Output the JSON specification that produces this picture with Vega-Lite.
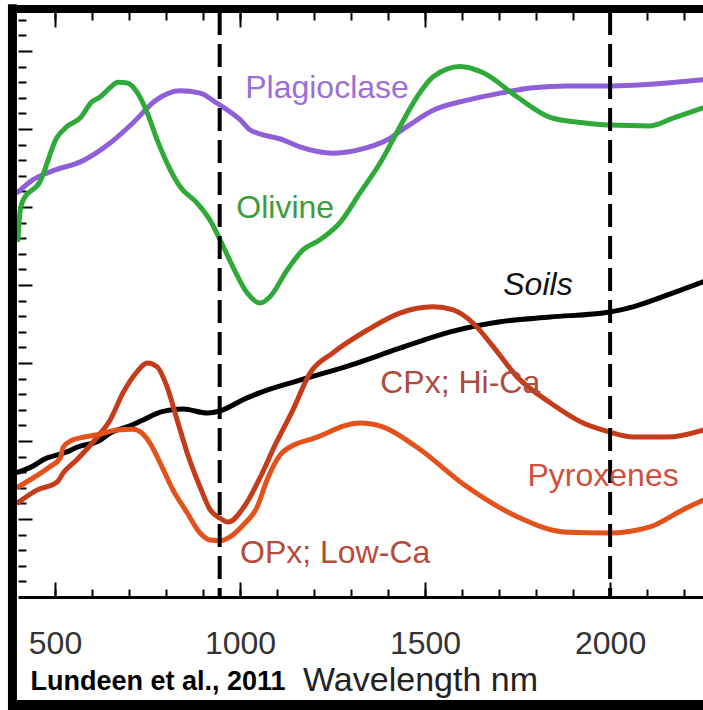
{
  "$schema": "https://vega.github.io/schema/vega-lite/v6.json",
  "width": 685,
  "height": 585,
  "autosize": {"type": "none"},
  "padding": {"left": 18, "top": 12, "right": 0, "bottom": 113},
  "background": "white",
  "config": {"view": {"stroke": null}, "axis": {"grid": false}},
  "datasets": {
    "spectra": [
      {"mineral": "Plagioclase", "wl": 400, "val": 5.19}, {"mineral": "Plagioclase", "wl": 441, "val": 5.35}, {"mineral": "Plagioclase", "wl": 486, "val": 5.45}, {"mineral": "Plagioclase", "wl": 578, "val": 5.60}, {"mineral": "Plagioclase", "wl": 649, "val": 5.82}, {"mineral": "Plagioclase", "wl": 711, "val": 6.08}, {"mineral": "Plagioclase", "wl": 773, "val": 6.37}, {"mineral": "Plagioclase", "wl": 838, "val": 6.49}, {"mineral": "Plagioclase", "wl": 892, "val": 6.46}, {"mineral": "Plagioclase", "wl": 938, "val": 6.33}, {"mineral": "Plagioclase", "wl": 1000, "val": 6.12}, {"mineral": "Plagioclase", "wl": 1027, "val": 5.99}, {"mineral": "Plagioclase", "wl": 1116, "val": 5.86}, {"mineral": "Plagioclase", "wl": 1162, "val": 5.77}, {"mineral": "Plagioclase", "wl": 1251, "val": 5.69}, {"mineral": "Plagioclase", "wl": 1343, "val": 5.76}, {"mineral": "Plagioclase", "wl": 1397, "val": 5.86}, {"mineral": "Plagioclase", "wl": 1451, "val": 6.03}, {"mineral": "Plagioclase", "wl": 1522, "val": 6.24}, {"mineral": "Plagioclase", "wl": 1614, "val": 6.37}, {"mineral": "Plagioclase", "wl": 1703, "val": 6.46}, {"mineral": "Plagioclase", "wl": 1792, "val": 6.53}, {"mineral": "Plagioclase", "wl": 1884, "val": 6.55}, {"mineral": "Plagioclase", "wl": 1995, "val": 6.55}, {"mineral": "Plagioclase", "wl": 2062, "val": 6.56}, {"mineral": "Plagioclase", "wl": 2154, "val": 6.59}, {"mineral": "Plagioclase", "wl": 2251, "val": 6.63},
      {"mineral": "Olivine", "wl": 400, "val": 4.58}, {"mineral": "Olivine", "wl": 405, "val": 4.92}, {"mineral": "Olivine", "wl": 414, "val": 5.09}, {"mineral": "Olivine", "wl": 459, "val": 5.32}, {"mineral": "Olivine", "wl": 505, "val": 5.89}, {"mineral": "Olivine", "wl": 532, "val": 6.03}, {"mineral": "Olivine", "wl": 568, "val": 6.14}, {"mineral": "Olivine", "wl": 600, "val": 6.35}, {"mineral": "Olivine", "wl": 622, "val": 6.41}, {"mineral": "Olivine", "wl": 649, "val": 6.53}, {"mineral": "Olivine", "wl": 670, "val": 6.60}, {"mineral": "Olivine", "wl": 695, "val": 6.59}, {"mineral": "Olivine", "wl": 722, "val": 6.47}, {"mineral": "Olivine", "wl": 749, "val": 6.21}, {"mineral": "Olivine", "wl": 776, "val": 5.86}, {"mineral": "Olivine", "wl": 803, "val": 5.56}, {"mineral": "Olivine", "wl": 838, "val": 5.26}, {"mineral": "Olivine", "wl": 884, "val": 5.05}, {"mineral": "Olivine", "wl": 919, "val": 4.83}, {"mineral": "Olivine", "wl": 946, "val": 4.58}, {"mineral": "Olivine", "wl": 981, "val": 4.23}, {"mineral": "Olivine", "wl": 1019, "val": 3.90}, {"mineral": "Olivine", "wl": 1054, "val": 3.77}, {"mineral": "Olivine", "wl": 1081, "val": 3.85}, {"mineral": "Olivine", "wl": 1127, "val": 4.19}, {"mineral": "Olivine", "wl": 1170, "val": 4.45}, {"mineral": "Olivine", "wl": 1216, "val": 4.58}, {"mineral": "Olivine", "wl": 1270, "val": 4.80}, {"mineral": "Olivine", "wl": 1324, "val": 5.18}, {"mineral": "Olivine", "wl": 1378, "val": 5.56}, {"mineral": "Olivine", "wl": 1432, "val": 6.03}, {"mineral": "Olivine", "wl": 1478, "val": 6.41}, {"mineral": "Olivine", "wl": 1522, "val": 6.67}, {"mineral": "Olivine", "wl": 1595, "val": 6.80}, {"mineral": "Olivine", "wl": 1657, "val": 6.72}, {"mineral": "Olivine", "wl": 1749, "val": 6.41}, {"mineral": "Olivine", "wl": 1838, "val": 6.15}, {"mineral": "Olivine", "wl": 1927, "val": 6.08}, {"mineral": "Olivine", "wl": 1995, "val": 6.05}, {"mineral": "Olivine", "wl": 2108, "val": 6.04}, {"mineral": "Olivine", "wl": 2170, "val": 6.14}, {"mineral": "Olivine", "wl": 2251, "val": 6.27},
      {"mineral": "Soils", "wl": 400, "val": 1.60}, {"mineral": "Soils", "wl": 441, "val": 1.68}, {"mineral": "Soils", "wl": 468, "val": 1.76}, {"mineral": "Soils", "wl": 532, "val": 1.86}, {"mineral": "Soils", "wl": 559, "val": 1.92}, {"mineral": "Soils", "wl": 622, "val": 2.01}, {"mineral": "Soils", "wl": 649, "val": 2.10}, {"mineral": "Soils", "wl": 711, "val": 2.21}, {"mineral": "Soils", "wl": 738, "val": 2.27}, {"mineral": "Soils", "wl": 792, "val": 2.38}, {"mineral": "Soils", "wl": 846, "val": 2.41}, {"mineral": "Soils", "wl": 911, "val": 2.36}, {"mineral": "Soils", "wl": 954, "val": 2.40}, {"mineral": "Soils", "wl": 1008, "val": 2.53}, {"mineral": "Soils", "wl": 1054, "val": 2.62}, {"mineral": "Soils", "wl": 1162, "val": 2.78}, {"mineral": "Soils", "wl": 1297, "val": 2.97}, {"mineral": "Soils", "wl": 1432, "val": 3.19}, {"mineral": "Soils", "wl": 1568, "val": 3.40}, {"mineral": "Soils", "wl": 1703, "val": 3.53}, {"mineral": "Soils", "wl": 1838, "val": 3.59}, {"mineral": "Soils", "wl": 1995, "val": 3.65}, {"mineral": "Soils", "wl": 2062, "val": 3.72}, {"mineral": "Soils", "wl": 2154, "val": 3.87}, {"mineral": "Soils", "wl": 2251, "val": 4.04},
      {"mineral": "CPx", "wl": 400, "val": 1.21}, {"mineral": "CPx", "wl": 451, "val": 1.37}, {"mineral": "CPx", "wl": 505, "val": 1.47}, {"mineral": "CPx", "wl": 522, "val": 1.59}, {"mineral": "CPx", "wl": 559, "val": 1.76}, {"mineral": "CPx", "wl": 614, "val": 2.05}, {"mineral": "CPx", "wl": 649, "val": 2.27}, {"mineral": "CPx", "wl": 684, "val": 2.62}, {"mineral": "CPx", "wl": 722, "val": 2.89}, {"mineral": "CPx", "wl": 749, "val": 3.00}, {"mineral": "CPx", "wl": 776, "val": 2.95}, {"mineral": "CPx", "wl": 803, "val": 2.69}, {"mineral": "CPx", "wl": 830, "val": 2.27}, {"mineral": "CPx", "wl": 857, "val": 1.85}, {"mineral": "CPx", "wl": 892, "val": 1.41}, {"mineral": "CPx", "wl": 919, "val": 1.12}, {"mineral": "CPx", "wl": 946, "val": 1.01}, {"mineral": "CPx", "wl": 968, "val": 0.96}, {"mineral": "CPx", "wl": 1014, "val": 1.18}, {"mineral": "CPx", "wl": 1054, "val": 1.53}, {"mineral": "CPx", "wl": 1095, "val": 1.95}, {"mineral": "CPx", "wl": 1143, "val": 2.40}, {"mineral": "CPx", "wl": 1189, "val": 2.87}, {"mineral": "CPx", "wl": 1251, "val": 3.13}, {"mineral": "CPx", "wl": 1343, "val": 3.42}, {"mineral": "CPx", "wl": 1432, "val": 3.64}, {"mineral": "CPx", "wl": 1522, "val": 3.72}, {"mineral": "CPx", "wl": 1576, "val": 3.68}, {"mineral": "CPx", "wl": 1630, "val": 3.51}, {"mineral": "CPx", "wl": 1684, "val": 3.21}, {"mineral": "CPx", "wl": 1749, "val": 2.82}, {"mineral": "CPx", "wl": 1838, "val": 2.49}, {"mineral": "CPx", "wl": 1927, "val": 2.23}, {"mineral": "CPx", "wl": 1995, "val": 2.12}, {"mineral": "CPx", "wl": 2062, "val": 2.05}, {"mineral": "CPx", "wl": 2154, "val": 2.05}, {"mineral": "CPx", "wl": 2251, "val": 2.14},
      {"mineral": "OPx", "wl": 400, "val": 1.41}, {"mineral": "OPx", "wl": 432, "val": 1.50}, {"mineral": "OPx", "wl": 486, "val": 1.67}, {"mineral": "OPx", "wl": 514, "val": 1.78}, {"mineral": "OPx", "wl": 522, "val": 1.92}, {"mineral": "OPx", "wl": 546, "val": 2.01}, {"mineral": "OPx", "wl": 568, "val": 2.04}, {"mineral": "OPx", "wl": 614, "val": 2.08}, {"mineral": "OPx", "wl": 668, "val": 2.14}, {"mineral": "OPx", "wl": 711, "val": 2.15}, {"mineral": "OPx", "wl": 735, "val": 2.10}, {"mineral": "OPx", "wl": 757, "val": 1.97}, {"mineral": "OPx", "wl": 784, "val": 1.72}, {"mineral": "OPx", "wl": 819, "val": 1.37}, {"mineral": "OPx", "wl": 857, "val": 1.08}, {"mineral": "OPx", "wl": 892, "val": 0.82}, {"mineral": "OPx", "wl": 919, "val": 0.73}, {"mineral": "OPx", "wl": 946, "val": 0.72}, {"mineral": "OPx", "wl": 973, "val": 0.77}, {"mineral": "OPx", "wl": 1008, "val": 0.92}, {"mineral": "OPx", "wl": 1046, "val": 1.15}, {"mineral": "OPx", "wl": 1073, "val": 1.50}, {"mineral": "OPx", "wl": 1116, "val": 1.86}, {"mineral": "OPx", "wl": 1208, "val": 2.05}, {"mineral": "OPx", "wl": 1324, "val": 2.23}, {"mineral": "OPx", "wl": 1386, "val": 2.18}, {"mineral": "OPx", "wl": 1478, "val": 1.92}, {"mineral": "OPx", "wl": 1614, "val": 1.41}, {"mineral": "OPx", "wl": 1749, "val": 1.03}, {"mineral": "OPx", "wl": 1884, "val": 0.83}, {"mineral": "OPx", "wl": 1995, "val": 0.82}, {"mineral": "OPx", "wl": 2108, "val": 0.90}, {"mineral": "OPx", "wl": 2197, "val": 1.12}, {"mineral": "OPx", "wl": 2251, "val": 1.24}
    ],
    "labels": [
      {"label": "Plagioclase", "wl": 1235, "val": 6.53},
      {"label": "Olivine", "wl": 1122, "val": 4.99},
      {"label": "CPx; Hi-Ca", "wl": 1595, "val": 2.74},
      {"label": "Pyroxenes", "wl": 1981, "val": 1.55},
      {"label": "OPx; Low-Ca", "wl": 1257, "val": 0.56}
    ],
    "italicLabels": [
      {"label": "Soils", "wl": 1805, "val": 4.0}
    ],
    "bands": [
      {"wl": 945},
      {"wl": 2000}
    ]
  },
  "layer": [
    {
      "data": {"name": "spectra"},
      "mark": {"type": "line", "interpolate": "monotone", "strokeCap": "round", "strokeJoin": "round"},
      "encoding": {
        "x": {
          "field": "wl", "type": "quantitative",
          "scale": {"domain": [400, 2251], "nice": false, "zero": false},
          "axis": {
            "orient": "bottom", "values": [500, 1000, 1500, 2000], "format": "d",
            "tickSize": -15, "tickWidth": 2, "tickColor": "black",
            "domainColor": "black", "domainWidth": 3,
            "labelFont": "Liberation Sans", "labelFontSize": 32, "labelColor": "#333333",
            "labelPadding": 46, "labelFlush": false, "labelOverlap": false,
            "title": "Wavelength nm", "titleFont": "Liberation Sans", "titleFontSize": 34,
            "titleFontWeight": "normal", "titleColor": "#222222",
            "titleX": 402, "titleY": 93, "titleAlign": "center", "titleBaseline": "alphabetic"
          }
        },
        "y": {
          "field": "val", "type": "quantitative",
          "scale": {"domain": [0, 7.5], "nice": false, "zero": false},
          "axis": {"orient": "left", "values": [1, 2, 3, 4, 5, 6, 7], "tickSize": -14, "tickWidth": 2, "tickColor": "black", "labels": false, "domain": false, "title": null}
        },
        "color": {
          "field": "mineral", "type": "nominal",
          "scale": {"domain": ["Plagioclase", "Olivine", "Soils", "CPx", "OPx"], "range": ["#8f5fd8", "#2faa3a", "#000000", "#c43c1a", "#e4521c"]},
          "legend": null
        },
        "strokeWidth": {
          "field": "mineral", "type": "nominal",
          "scale": {"domain": ["Plagioclase", "Olivine", "Soils", "CPx", "OPx"], "range": [5, 5, 4, 5, 5]},
          "legend": null
        }
      }
    },
    {
      "data": {"name": "bands"},
      "mark": {"type": "rule", "strokeDash": [23, 9], "strokeWidth": 4, "color": "black"},
      "encoding": {
        "x": {
          "field": "wl", "type": "quantitative",
          "scale": {"domain": [400, 2251], "nice": false, "zero": false},
          "axis": {"orient": "bottom", "values": [500, 600, 700, 800, 900, 1000, 1100, 1200, 1300, 1400, 1500, 1600, 1700, 1800, 1900, 2000, 2100, 2200], "tickSize": -8, "tickWidth": 2, "tickColor": "black", "labels": false, "domain": false, "title": null}
        }
      }
    },
    {
      "data": {"name": "labels"},
      "mark": {"type": "text", "font": "Liberation Sans", "fontSize": 32, "align": "center", "baseline": "middle"},
      "encoding": {
        "x": {
          "field": "wl", "type": "quantitative",
          "scale": {"domain": [400, 2251], "nice": false, "zero": false},
          "axis": {"orient": "top", "values": [500, 1000, 1500, 2000], "tickSize": -15, "tickWidth": 2, "tickColor": "black", "labels": false, "domain": false, "title": null}
        },
        "y": {
          "field": "val", "type": "quantitative",
          "scale": {"domain": [0, 7.5], "nice": false, "zero": false},
          "axis": {"orient": "left", "values": [0.2, 0.4, 0.6, 0.8, 1.2, 1.4, 1.6, 1.8, 2.2, 2.4, 2.6, 2.8, 3.2, 3.4, 3.6, 3.8, 4.2, 4.4, 4.6, 4.8, 5.2, 5.4, 5.6, 5.8, 6.2, 6.4, 6.6, 6.8, 7.2, 7.4], "tickSize": -8, "tickWidth": 2, "tickColor": "black", "labels": false, "domain": false, "title": null}
        },
        "text": {"field": "label", "type": "nominal"},
        "color": {
          "field": "label", "type": "nominal",
          "scale": {"domain": ["Plagioclase", "Olivine", "CPx; Hi-Ca", "Pyroxenes", "OPx; Low-Ca"], "range": ["#9b6fd6", "#3c9c3c", "#b04a3c", "#d0503c", "#b84a3a"]},
          "legend": null
        }
      }
    },
    {
      "data": {"name": "italicLabels"},
      "mark": {"type": "text", "font": "Liberation Sans", "fontSize": 32, "fontStyle": "italic", "align": "center", "baseline": "middle", "color": "#111111"},
      "encoding": {
        "x": {"field": "wl", "type": "quantitative", "scale": {"domain": [400, 2251], "nice": false, "zero": false}, "axis": null},
        "y": {"field": "val", "type": "quantitative", "scale": {"domain": [0, 7.5], "nice": false, "zero": false}, "axis": null},
        "text": {"field": "label", "type": "nominal"}
      }
    },
    {
      "data": {"values": [{}]},
      "mark": {"type": "rule", "color": "black", "strokeWidth": 9},
      "encoding": {
        "x": {
          "datum": 385, "type": "quantitative",
          "scale": {"domain": [400, 2251], "nice": false, "zero": false},
          "axis": {"orient": "bottom", "ticks": false, "labels": false, "domain": false,
            "title": "Lundeen et al., 2011", "titleFont": "Liberation Sans",
            "titleFontSize": 27, "titleFontWeight": "bold", "titleColor": "black",
            "titleX": 12, "titleY": 92, "titleAlign": "left", "titleBaseline": "alphabetic"}
        },
        "y": {"datum": -1.45, "type": "quantitative", "scale": {"domain": [0, 7.5], "nice": false, "zero": false}, "axis": null},
        "y2": {"datum": 7.6}
      }
    },
    {
      "data": {"values": [{}]},
      "mark": {"type": "rule", "color": "black", "strokeWidth": 8},
      "encoding": {
        "x": {
          "datum": 383, "type": "quantitative",
          "scale": {"domain": [400, 2251], "nice": false, "zero": false},
          "axis": {"orient": "top", "values": [500, 600, 700, 800, 900, 1000, 1100, 1200, 1300, 1400, 1500, 1600, 1700, 1800, 1900, 2000, 2100, 2200], "tickSize": -8, "tickWidth": 2, "tickColor": "black", "labels": false, "domain": false, "title": null}
        },
        "x2": {"datum": 2260},
        "y": {"datum": 7.538, "type": "quantitative", "scale": {"domain": [0, 7.5], "nice": false, "zero": false}, "axis": null}
      }
    },
    {
      "data": {"values": [{}]},
      "mark": {"type": "rule", "color": "black", "strokeWidth": 10},
      "encoding": {
        "x": {"datum": 383, "type": "quantitative", "scale": {"domain": [400, 2251], "nice": false, "zero": false}, "axis": null},
        "x2": {"datum": 2260},
        "y": {"datum": -1.385, "type": "quantitative", "scale": {"domain": [0, 7.5], "nice": false, "zero": false}, "axis": null}
      }
    }
  ],
  "resolve": {
    "axis": {"x": "independent", "y": "independent"},
    "scale": {"color": "independent", "strokeWidth": "independent"}
  }
}
